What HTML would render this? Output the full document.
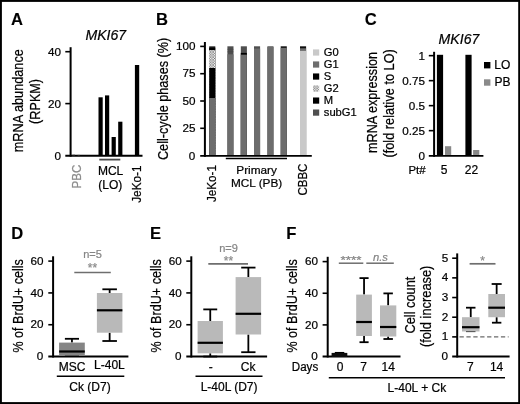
<!DOCTYPE html>
<html><head><meta charset="utf-8"><title>Figure</title>
<style>
html,body{margin:0;padding:0;background:#fff;}
svg{display:block;font-family:'Liberation Sans', Arial, Helvetica, sans-serif;}
</style></head>
<body>
<svg width="520" height="404" viewBox="0 0 520 404">
<defs>
<pattern id="hatch" width="2.6" height="2.6" patternUnits="userSpaceOnUse">
<rect width="2.6" height="2.6" fill="#efefef"/>
<path d="M0 0L2.6 2.6M2.6 0L0 2.6" stroke="#555" stroke-width="0.5"/>
</pattern>
<filter id="soft" x="0" y="0" width="100%" height="100%"><feGaussianBlur stdDeviation="0.45"/></filter>
</defs>
<rect x="0" y="0" width="520" height="404" fill="#000"/>
<rect x="1.9" y="1.9" width="516.3" height="400.2" fill="#fff"/>
<g filter="url(#soft)">
<text x="11" y="25" font-size="16.6" text-anchor="start" fill="#000" stroke="#000" stroke-width="0.12" font-weight="bold" font-style="normal">A</text>
<text x="85.4" y="40.1" font-size="14.1" text-anchor="start" fill="#000" stroke="#000" stroke-width="0.22" font-weight="normal" font-style="italic">MKI67</text>
<line x1="70.60" y1="47.20" x2="70.60" y2="156.65" stroke="#000" stroke-width="2.0" />
<line x1="65.30" y1="155.70" x2="142.50" y2="155.70" stroke="#000" stroke-width="1.9" />
<line x1="65.30" y1="51.70" x2="70.60" y2="51.70" stroke="#000" stroke-width="1.6" />
<text x="60.9" y="55.900000000000006" font-size="11.7" text-anchor="end" fill="#000" stroke="#000" stroke-width="0.22" font-weight="normal" font-style="normal">40</text>
<line x1="65.30" y1="103.60" x2="70.60" y2="103.60" stroke="#000" stroke-width="1.6" />
<text x="60.9" y="107.8" font-size="11.7" text-anchor="end" fill="#000" stroke="#000" stroke-width="0.22" font-weight="normal" font-style="normal">20</text>
<text x="60.9" y="159.9" font-size="11.7" text-anchor="end" fill="#000" stroke="#000" stroke-width="0.22" font-weight="normal" font-style="normal">0</text>
<rect x="98.50" y="97.30" width="4.20" height="58.40" fill="#000" />
<rect x="105.00" y="95.40" width="4.20" height="60.30" fill="#000" />
<rect x="111.60" y="137.00" width="4.20" height="18.70" fill="#000" />
<rect x="118.20" y="121.70" width="4.20" height="34.00" fill="#000" />
<rect x="134.90" y="65.00" width="4.30" height="90.70" fill="#000" />
<rect x="72.40" y="154.00" width="2.60" height="1.20" fill="#999" />
<rect x="77.50" y="154.40" width="2.30" height="0.80" fill="#aaa" />
<line x1="99.30" y1="159.60" x2="120.30" y2="159.60" stroke="#4a4a4a" stroke-width="1.8" />
<text x="80.8" y="188.5" font-size="12" text-anchor="start" fill="#8c8c8c" stroke="#8c8c8c" stroke-width="0.22" font-weight="normal" font-style="normal" textLength="23.8" lengthAdjust="spacingAndGlyphs" transform="rotate(-90 80.8 188.5)">PBC</text>
<text x="110.6" y="174.8" font-size="12" text-anchor="middle" fill="#000" stroke="#000" stroke-width="0.22" font-weight="normal" font-style="normal">MCL</text>
<text x="110.3" y="189.1" font-size="12" text-anchor="middle" fill="#000" stroke="#000" stroke-width="0.22" font-weight="normal" font-style="normal">(LO)</text>
<text x="141.2" y="202.8" font-size="12" text-anchor="start" fill="#000" stroke="#000" stroke-width="0.22" font-weight="normal" font-style="normal" textLength="37.4" lengthAdjust="spacingAndGlyphs" transform="rotate(-90 141.2 202.8)">JeKo-1</text>
<text x="22.7" y="100.69999999999999" font-size="14.7" text-anchor="middle" fill="#000" stroke="#000" stroke-width="0.22" font-weight="normal" font-style="normal" textLength="103.0" lengthAdjust="spacingAndGlyphs" transform="rotate(-90 22.7 100.69999999999999)">mRNA abundance</text>
<text x="39.9" y="101.4" font-size="14.5" text-anchor="middle" fill="#000" stroke="#000" stroke-width="0.22" font-weight="normal" font-style="normal" textLength="45.0" lengthAdjust="spacingAndGlyphs" transform="rotate(-90 39.9 101.4)">(RPKM)</text>
<text x="156" y="25" font-size="16.6" text-anchor="start" fill="#000" stroke="#000" stroke-width="0.12" font-weight="bold" font-style="normal">B</text>
<line x1="204.90" y1="42.00" x2="204.90" y2="156.85" stroke="#000" stroke-width="2.0" />
<line x1="200.20" y1="155.90" x2="311.80" y2="155.90" stroke="#000" stroke-width="1.9" />
<line x1="200.20" y1="46.40" x2="204.90" y2="46.40" stroke="#000" stroke-width="1.6" />
<text x="195.6" y="49.89999999999999" font-size="11.7" text-anchor="end" fill="#000" stroke="#000" stroke-width="0.22" font-weight="normal" font-style="normal">100</text>
<line x1="200.20" y1="73.70" x2="204.90" y2="73.70" stroke="#000" stroke-width="1.6" />
<text x="195.6" y="77.19999999999999" font-size="11.7" text-anchor="end" fill="#000" stroke="#000" stroke-width="0.22" font-weight="normal" font-style="normal">75</text>
<line x1="200.20" y1="101.00" x2="204.90" y2="101.00" stroke="#000" stroke-width="1.6" />
<text x="195.6" y="104.5" font-size="11.7" text-anchor="end" fill="#000" stroke="#000" stroke-width="0.22" font-weight="normal" font-style="normal">50</text>
<line x1="200.20" y1="128.30" x2="204.90" y2="128.30" stroke="#000" stroke-width="1.6" />
<text x="195.6" y="131.79999999999998" font-size="11.7" text-anchor="end" fill="#000" stroke="#000" stroke-width="0.22" font-weight="normal" font-style="normal">25</text>
<text x="195.3" y="159.7" font-size="11.7" text-anchor="end" fill="#000" stroke="#000" stroke-width="0.22" font-weight="normal" font-style="normal">0</text>
<rect x="209.20" y="46.30" width="6.10" height="108.70" fill="#2a2a2a" />
<rect x="209.20" y="47.60" width="6.10" height="107.40" fill="#000" />
<rect x="209.20" y="50.30" width="6.10" height="104.70" fill="#e9e9e9" />
<rect x="209.20" y="50.30" width="6.10" height="104.70" fill="url(#hatch)" />
<rect x="209.20" y="68.00" width="6.10" height="87.00" fill="#000" />
<rect x="209.20" y="98.00" width="6.10" height="57.00" fill="#6d6d6d" />
<rect x="227.40" y="46.30" width="6.10" height="108.70" fill="#505050" />
<rect x="227.40" y="54.30" width="6.10" height="100.70" fill="#6d6d6d" />
<line x1="227.40" y1="49.30" x2="233.50" y2="49.30" stroke="#3c3c3c" stroke-width="0.5" />
<line x1="227.40" y1="51.80" x2="233.50" y2="51.80" stroke="#3c3c3c" stroke-width="0.5" />
<rect x="240.80" y="46.30" width="6.10" height="108.70" fill="#505050" />
<rect x="240.80" y="52.90" width="6.10" height="102.10" fill="#000" />
<rect x="240.80" y="54.70" width="6.10" height="100.30" fill="#6d6d6d" />
<rect x="254.00" y="46.30" width="6.10" height="108.70" fill="#505050" />
<rect x="254.00" y="48.60" width="6.10" height="106.40" fill="#6d6d6d" />
<rect x="267.40" y="46.30" width="6.10" height="108.70" fill="#505050" />
<rect x="267.40" y="47.00" width="6.10" height="108.00" fill="#6d6d6d" />
<rect x="280.70" y="46.30" width="6.10" height="108.70" fill="#111" />
<rect x="280.70" y="47.90" width="6.10" height="107.10" fill="#6d6d6d" />
<rect x="300.00" y="46.30" width="6.10" height="108.70" fill="#111" />
<rect x="300.00" y="48.30" width="6.10" height="106.70" fill="#6d6d6d" />
<rect x="300.00" y="50.90" width="6.10" height="104.10" fill="#c9c9c9" />
<line x1="225.80" y1="158.50" x2="287.00" y2="158.50" stroke="#000" stroke-width="1.6" />
<text x="216.0" y="202.0" font-size="12" text-anchor="start" fill="#000" stroke="#000" stroke-width="0.22" font-weight="normal" font-style="normal" textLength="37" lengthAdjust="spacingAndGlyphs" transform="rotate(-90 216.0 202.0)">JeKo-1</text>
<text x="256.6" y="173.7" font-size="11.8" text-anchor="middle" fill="#000" stroke="#000" stroke-width="0.22" font-weight="normal" font-style="normal">Primary</text>
<text x="256.6" y="187.3" font-size="11.8" text-anchor="middle" fill="#000" stroke="#000" stroke-width="0.22" font-weight="normal" font-style="normal">MCL (PB)</text>
<text x="306.6" y="195.6" font-size="12" text-anchor="start" fill="#000" stroke="#000" stroke-width="0.22" font-weight="normal" font-style="normal" textLength="32" lengthAdjust="spacingAndGlyphs" transform="rotate(-90 306.6 195.6)">CBBC</text>
<text x="167.8" y="98.9" font-size="14" text-anchor="middle" fill="#000" stroke="#000" stroke-width="0.22" font-weight="normal" font-style="normal" textLength="122.2" lengthAdjust="spacingAndGlyphs" transform="rotate(-90 167.8 98.9)">Cell-cycle phases (%)</text>
<rect x="313.00" y="49.40" width="6.20" height="6.20" fill="#c9c9c9" />
<text x="323.8" y="56.199999999999996" font-size="11.2" text-anchor="start" fill="#000" stroke="#000" stroke-width="0.22" font-weight="normal" font-style="normal">G0</text>
<rect x="313.00" y="61.42" width="6.20" height="6.20" fill="#6d6d6d" />
<text x="323.8" y="68.22" font-size="11.2" text-anchor="start" fill="#000" stroke="#000" stroke-width="0.22" font-weight="normal" font-style="normal">G1</text>
<rect x="313.00" y="73.44" width="6.20" height="6.20" fill="#000" />
<text x="323.8" y="80.24" font-size="11.2" text-anchor="start" fill="#000" stroke="#000" stroke-width="0.22" font-weight="normal" font-style="normal">S</text>
<rect x="313.00" y="85.46" width="6.20" height="6.20" fill="url(#hatch)" />
<text x="323.8" y="92.26" font-size="11.2" text-anchor="start" fill="#000" stroke="#000" stroke-width="0.22" font-weight="normal" font-style="normal">G2</text>
<rect x="313.00" y="97.48" width="6.20" height="6.20" fill="#000" />
<text x="323.8" y="104.27999999999999" font-size="11.2" text-anchor="start" fill="#000" stroke="#000" stroke-width="0.22" font-weight="normal" font-style="normal">M</text>
<rect x="313.00" y="109.50" width="6.20" height="6.20" fill="#505050" />
<text x="323.8" y="116.3" font-size="11.2" text-anchor="start" fill="#000" stroke="#000" stroke-width="0.22" font-weight="normal" font-style="normal">subG1</text>
<text x="364.8" y="25" font-size="16.6" text-anchor="start" fill="#000" stroke="#000" stroke-width="0.12" font-weight="bold" font-style="normal">C</text>
<text x="438.6" y="44.0" font-size="14.1" text-anchor="start" fill="#000" stroke="#000" stroke-width="0.22" font-weight="normal" font-style="italic">MKI67</text>
<line x1="434.10" y1="51.80" x2="434.10" y2="156.80" stroke="#000" stroke-width="2.0" />
<line x1="428.80" y1="155.85" x2="483.40" y2="155.85" stroke="#000" stroke-width="1.9" />
<line x1="428.80" y1="55.65" x2="434.10" y2="55.65" stroke="#000" stroke-width="1.6" />
<text x="425" y="60.150000000000006" font-size="11.7" text-anchor="end" fill="#000" stroke="#000" stroke-width="0.22" font-weight="normal" font-style="normal">1</text>
<line x1="428.80" y1="80.65" x2="434.10" y2="80.65" stroke="#000" stroke-width="1.6" />
<text x="425" y="85.15" font-size="11.7" text-anchor="end" fill="#000" stroke="#000" stroke-width="0.22" font-weight="normal" font-style="normal">0.75</text>
<line x1="428.80" y1="105.65" x2="434.10" y2="105.65" stroke="#000" stroke-width="1.6" />
<text x="425" y="110.15" font-size="11.7" text-anchor="end" fill="#000" stroke="#000" stroke-width="0.22" font-weight="normal" font-style="normal">0.5</text>
<line x1="428.80" y1="130.65" x2="434.10" y2="130.65" stroke="#000" stroke-width="1.6" />
<text x="425" y="135.15" font-size="11.7" text-anchor="end" fill="#000" stroke="#000" stroke-width="0.22" font-weight="normal" font-style="normal">0.25</text>
<text x="425" y="159.5" font-size="11.7" text-anchor="end" fill="#000" stroke="#000" stroke-width="0.22" font-weight="normal" font-style="normal">0</text>
<rect x="436.90" y="54.80" width="6.20" height="101.05" fill="#000" />
<rect x="465.40" y="54.80" width="6.20" height="101.05" fill="#000" />
<rect x="445.00" y="146.20" width="6.20" height="8.75" fill="#888" />
<rect x="473.10" y="150.00" width="6.20" height="4.95" fill="#888" />
<text x="408.4" y="174.1" font-size="11.4" text-anchor="start" fill="#000" stroke="#000" stroke-width="0.22" font-weight="normal" font-style="normal">Pt#</text>
<text x="444.0" y="174.1" font-size="12" text-anchor="middle" fill="#000" stroke="#000" stroke-width="0.22" font-weight="normal" font-style="normal">5</text>
<text x="471.5" y="174.1" font-size="12" text-anchor="middle" fill="#000" stroke="#000" stroke-width="0.22" font-weight="normal" font-style="normal">22</text>
<rect x="484.00" y="62.00" width="6.40" height="6.40" fill="#000" />
<text x="494.3" y="68.6" font-size="12" text-anchor="start" fill="#000" stroke="#000" stroke-width="0.22" font-weight="normal" font-style="normal">LO</text>
<rect x="484.00" y="79.30" width="6.40" height="6.40" fill="#8a8a8a" />
<text x="494.6" y="86" font-size="12" text-anchor="start" fill="#000" stroke="#000" stroke-width="0.22" font-weight="normal" font-style="normal">PB</text>
<text x="377.0" y="102.5" font-size="14.7" text-anchor="middle" fill="#000" stroke="#000" stroke-width="0.22" font-weight="normal" font-style="normal" textLength="101.0" lengthAdjust="spacingAndGlyphs" transform="rotate(-90 377.0 102.5)">mRNA expression</text>
<text x="394.0" y="103.35" font-size="14.5" text-anchor="middle" fill="#000" stroke="#000" stroke-width="0.22" font-weight="normal" font-style="normal" textLength="108.3" lengthAdjust="spacingAndGlyphs" transform="rotate(-90 394.0 103.35)">(fold relative to LO)</text>
<text x="11.3" y="238.7" font-size="16.6" text-anchor="start" fill="#000" stroke="#000" stroke-width="0.12" font-weight="bold" font-style="normal">D</text>
<line x1="53.10" y1="256.30" x2="53.10" y2="357.50" stroke="#000" stroke-width="2.0" />
<line x1="48.30" y1="356.55" x2="128.40" y2="356.55" stroke="#000" stroke-width="1.9" />
<line x1="48.30" y1="261.10" x2="53.10" y2="261.10" stroke="#000" stroke-width="1.6" />
<text x="43.599999999999994" y="264.70000000000005" font-size="11.7" text-anchor="end" fill="#000" stroke="#000" stroke-width="0.22" font-weight="normal" font-style="normal">60</text>
<line x1="48.30" y1="292.92" x2="53.10" y2="292.92" stroke="#000" stroke-width="1.6" />
<text x="43.599999999999994" y="296.5166666666667" font-size="11.7" text-anchor="end" fill="#000" stroke="#000" stroke-width="0.22" font-weight="normal" font-style="normal">40</text>
<line x1="48.30" y1="324.73" x2="53.10" y2="324.73" stroke="#000" stroke-width="1.6" />
<text x="43.599999999999994" y="328.33333333333337" font-size="11.7" text-anchor="end" fill="#000" stroke="#000" stroke-width="0.22" font-weight="normal" font-style="normal">20</text>
<text x="43.3" y="360.05" font-size="11.7" text-anchor="end" fill="#000" stroke="#000" stroke-width="0.22" font-weight="normal" font-style="normal">0</text>
<text x="92.6" y="257.8" font-size="11" text-anchor="middle" fill="#858585" stroke="#858585" stroke-width="0.22" font-weight="normal" font-style="normal">n=5</text>
<text x="92.5" y="271.8" font-size="12" text-anchor="middle" fill="#8a8a8a" stroke="#8a8a8a" stroke-width="0.22" font-weight="normal" font-style="normal">**</text>
<line x1="74.30" y1="272.50" x2="110.80" y2="272.50" stroke="#6e6e6e" stroke-width="1.7" />
<line x1="71.95" y1="338.80" x2="71.95" y2="342.60" stroke="#000" stroke-width="1.8" />
<line x1="71.95" y1="355.65" x2="71.95" y2="355.65" stroke="#000" stroke-width="1.8" />
<line x1="64.88" y1="338.80" x2="79.02" y2="338.80" stroke="#000" stroke-width="1.8" />
<line x1="64.88" y1="355.65" x2="79.02" y2="355.65" stroke="#000" stroke-width="1.8" />
<rect x="59.10" y="342.60" width="25.70" height="13.05" fill="#858585" />
<line x1="59.10" y1="351.50" x2="84.80" y2="351.50" stroke="#000" stroke-width="2.2" />
<line x1="109.65" y1="289.30" x2="109.65" y2="293.00" stroke="#000" stroke-width="1.8" />
<line x1="109.65" y1="332.70" x2="109.65" y2="341.00" stroke="#000" stroke-width="1.8" />
<line x1="102.38" y1="289.30" x2="116.92" y2="289.30" stroke="#000" stroke-width="1.8" />
<line x1="102.38" y1="341.00" x2="116.92" y2="341.00" stroke="#000" stroke-width="1.8" />
<rect x="96.90" y="293.00" width="25.50" height="39.70" fill="#b9b9b9" />
<line x1="96.90" y1="310.30" x2="122.40" y2="310.30" stroke="#000" stroke-width="2.2" />
<text x="72.1" y="371.3" font-size="12" text-anchor="middle" fill="#000" stroke="#000" stroke-width="0.22" font-weight="normal" font-style="normal">MSC</text>
<text x="109.4" y="368.5" font-size="12" text-anchor="middle" fill="#000" stroke="#000" stroke-width="0.22" font-weight="normal" font-style="normal">L-40L</text>
<line x1="56.80" y1="376.25" x2="124.30" y2="376.25" stroke="#000" stroke-width="1.6" />
<text x="90" y="391.3" font-size="12" text-anchor="middle" fill="#000" stroke="#000" stroke-width="0.22" font-weight="normal" font-style="normal">Ck (D7)</text>
<text x="23.0" y="305.85" font-size="14.6" text-anchor="middle" fill="#000" stroke="#000" stroke-width="0.22" font-weight="normal" font-style="normal" textLength="93.5" lengthAdjust="spacingAndGlyphs" transform="rotate(-90 23.0 305.85)">% of BrdU+ cells</text>
<text x="150.1" y="238.7" font-size="16.6" text-anchor="start" fill="#000" stroke="#000" stroke-width="0.12" font-weight="bold" font-style="normal">E</text>
<line x1="191.30" y1="256.30" x2="191.30" y2="357.50" stroke="#000" stroke-width="2.0" />
<line x1="186.30" y1="356.55" x2="267.10" y2="356.55" stroke="#000" stroke-width="1.9" />
<line x1="186.30" y1="261.10" x2="191.30" y2="261.10" stroke="#000" stroke-width="1.6" />
<text x="181.8" y="264.70000000000005" font-size="11.7" text-anchor="end" fill="#000" stroke="#000" stroke-width="0.22" font-weight="normal" font-style="normal">60</text>
<line x1="186.30" y1="292.92" x2="191.30" y2="292.92" stroke="#000" stroke-width="1.6" />
<text x="181.8" y="296.5166666666667" font-size="11.7" text-anchor="end" fill="#000" stroke="#000" stroke-width="0.22" font-weight="normal" font-style="normal">40</text>
<line x1="186.30" y1="324.73" x2="191.30" y2="324.73" stroke="#000" stroke-width="1.6" />
<text x="181.8" y="328.33333333333337" font-size="11.7" text-anchor="end" fill="#000" stroke="#000" stroke-width="0.22" font-weight="normal" font-style="normal">20</text>
<text x="181.5" y="360.05" font-size="11.7" text-anchor="end" fill="#000" stroke="#000" stroke-width="0.22" font-weight="normal" font-style="normal">0</text>
<text x="228.5" y="252.4" font-size="11" text-anchor="middle" fill="#858585" stroke="#858585" stroke-width="0.22" font-weight="normal" font-style="normal">n=9</text>
<text x="228.4" y="265.3" font-size="12" text-anchor="middle" fill="#8a8a8a" stroke="#8a8a8a" stroke-width="0.22" font-weight="normal" font-style="normal">**</text>
<line x1="208.30" y1="263.80" x2="248.00" y2="263.80" stroke="#6e6e6e" stroke-width="1.7" />
<line x1="210.25" y1="309.40" x2="210.25" y2="321.00" stroke="#000" stroke-width="1.8" />
<line x1="210.25" y1="353.30" x2="210.25" y2="356.55" stroke="#000" stroke-width="1.8" />
<line x1="203.29" y1="309.40" x2="217.21" y2="309.40" stroke="#000" stroke-width="1.8" />
<line x1="203.29" y1="356.55" x2="217.21" y2="356.55" stroke="#000" stroke-width="1.8" />
<rect x="197.60" y="321.00" width="25.30" height="32.30" fill="#b9b9b9" />
<line x1="197.60" y1="342.80" x2="222.90" y2="342.80" stroke="#000" stroke-width="2.2" />
<line x1="248.35" y1="267.60" x2="248.35" y2="277.10" stroke="#000" stroke-width="1.8" />
<line x1="248.35" y1="334.50" x2="248.35" y2="352.20" stroke="#000" stroke-width="1.8" />
<line x1="241.21" y1="267.60" x2="255.49" y2="267.60" stroke="#000" stroke-width="1.8" />
<line x1="241.21" y1="352.20" x2="255.49" y2="352.20" stroke="#000" stroke-width="1.8" />
<rect x="235.60" y="277.10" width="25.50" height="57.40" fill="#b9b9b9" />
<line x1="235.60" y1="313.80" x2="261.10" y2="313.80" stroke="#000" stroke-width="2.2" />
<text x="210.7" y="371" font-size="12" text-anchor="middle" fill="#000" stroke="#000" stroke-width="0.22" font-weight="normal" font-style="normal">-</text>
<text x="248.2" y="371.0" font-size="12" text-anchor="middle" fill="#000" stroke="#000" stroke-width="0.22" font-weight="normal" font-style="normal">Ck</text>
<line x1="195.50" y1="376.25" x2="262.50" y2="376.25" stroke="#000" stroke-width="1.6" />
<text x="229.1" y="391.3" font-size="12" text-anchor="middle" fill="#000" stroke="#000" stroke-width="0.22" font-weight="normal" font-style="normal">L-40L (D7)</text>
<text x="161.3" y="305.85" font-size="14.6" text-anchor="middle" fill="#000" stroke="#000" stroke-width="0.22" font-weight="normal" font-style="normal" textLength="93.5" lengthAdjust="spacingAndGlyphs" transform="rotate(-90 161.3 305.85)">% of BrdU+ cells</text>
<text x="286.3" y="238.7" font-size="16.6" text-anchor="start" fill="#000" stroke="#000" stroke-width="0.12" font-weight="bold" font-style="normal">F</text>
<line x1="327.70" y1="256.80" x2="327.70" y2="357.50" stroke="#000" stroke-width="2.0" />
<line x1="322.60" y1="356.55" x2="400.50" y2="356.55" stroke="#000" stroke-width="1.9" />
<line x1="322.60" y1="261.60" x2="327.70" y2="261.60" stroke="#000" stroke-width="1.6" />
<text x="318.1" y="265.20000000000005" font-size="11.7" text-anchor="end" fill="#000" stroke="#000" stroke-width="0.22" font-weight="normal" font-style="normal">60</text>
<line x1="322.60" y1="293.25" x2="327.70" y2="293.25" stroke="#000" stroke-width="1.6" />
<text x="318.1" y="296.85" font-size="11.7" text-anchor="end" fill="#000" stroke="#000" stroke-width="0.22" font-weight="normal" font-style="normal">40</text>
<line x1="322.60" y1="324.90" x2="327.70" y2="324.90" stroke="#000" stroke-width="1.6" />
<text x="318.1" y="328.50000000000006" font-size="11.7" text-anchor="end" fill="#000" stroke="#000" stroke-width="0.22" font-weight="normal" font-style="normal">20</text>
<text x="317.8" y="360.05" font-size="11.7" text-anchor="end" fill="#000" stroke="#000" stroke-width="0.22" font-weight="normal" font-style="normal">0</text>
<text x="351.0" y="264.4" font-size="11" text-anchor="middle" fill="#858585" stroke="#858585" stroke-width="0.22" font-weight="normal" font-style="normal" textLength="21" lengthAdjust="spacingAndGlyphs">****</text>
<line x1="338.80" y1="263.20" x2="363.30" y2="263.20" stroke="#6e6e6e" stroke-width="1.5" />
<text x="380.4" y="260.8" font-size="11.2" text-anchor="middle" fill="#858585" stroke="#858585" stroke-width="0.22" font-weight="normal" font-style="italic">n.s</text>
<line x1="366.30" y1="263.20" x2="393.80" y2="263.20" stroke="#6e6e6e" stroke-width="1.5" />
<rect x="331.60" y="352.90" width="15.70" height="3.65" fill="#111" />
<line x1="334.80" y1="352.60" x2="344.30" y2="352.60" stroke="#000" stroke-width="1.3" />
<line x1="364.05" y1="278.10" x2="364.05" y2="294.60" stroke="#000" stroke-width="1.8" />
<line x1="364.05" y1="336.00" x2="364.05" y2="342.20" stroke="#000" stroke-width="1.8" />
<line x1="359.50" y1="278.10" x2="368.60" y2="278.10" stroke="#000" stroke-width="1.8" />
<line x1="359.50" y1="342.20" x2="368.60" y2="342.20" stroke="#000" stroke-width="1.8" />
<rect x="356.20" y="294.60" width="15.70" height="41.40" fill="#b9b9b9" />
<line x1="356.20" y1="322.00" x2="371.90" y2="322.00" stroke="#000" stroke-width="2.2" />
<line x1="388.15" y1="293.40" x2="388.15" y2="305.40" stroke="#000" stroke-width="1.8" />
<line x1="388.15" y1="336.50" x2="388.15" y2="339.00" stroke="#000" stroke-width="1.8" />
<line x1="383.42" y1="293.40" x2="392.88" y2="293.40" stroke="#000" stroke-width="1.8" />
<line x1="383.42" y1="339.00" x2="392.88" y2="339.00" stroke="#000" stroke-width="1.8" />
<rect x="380.00" y="305.40" width="16.30" height="31.10" fill="#b9b9b9" />
<line x1="380.00" y1="327.00" x2="396.30" y2="327.00" stroke="#000" stroke-width="2.2" />
<text x="291.8" y="371.0" font-size="12" text-anchor="start" fill="#000" stroke="#000" stroke-width="0.22" font-weight="normal" font-style="normal" textLength="26.4" lengthAdjust="spacingAndGlyphs">Days</text>
<text x="340.0" y="371.0" font-size="12" text-anchor="middle" fill="#000" stroke="#000" stroke-width="0.22" font-weight="normal" font-style="normal">0</text>
<text x="363.7" y="371.0" font-size="12" text-anchor="middle" fill="#000" stroke="#000" stroke-width="0.22" font-weight="normal" font-style="normal">7</text>
<text x="388.2" y="371.0" font-size="12" text-anchor="middle" fill="#000" stroke="#000" stroke-width="0.22" font-weight="normal" font-style="normal">14</text>
<line x1="328.80" y1="377.80" x2="505.00" y2="377.80" stroke="#000" stroke-width="1.6" />
<text x="387.6" y="392.2" font-size="12" text-anchor="start" fill="#000" stroke="#000" stroke-width="0.22" font-weight="normal" font-style="normal">L-40L + Ck</text>
<text x="297.5" y="305.85" font-size="14.6" text-anchor="middle" fill="#000" stroke="#000" stroke-width="0.22" font-weight="normal" font-style="normal" textLength="93.5" lengthAdjust="spacingAndGlyphs" transform="rotate(-90 297.5 305.85)">% of BrdU+ cells</text>
<line x1="457.20" y1="253.40" x2="457.20" y2="357.50" stroke="#000" stroke-width="2.0" />
<line x1="452.20" y1="356.55" x2="509.60" y2="356.55" stroke="#000" stroke-width="1.9" />
<line x1="452.20" y1="258.20" x2="457.20" y2="258.20" stroke="#000" stroke-width="1.6" />
<text x="448.2" y="261.8" font-size="11.7" text-anchor="end" fill="#000" stroke="#000" stroke-width="0.22" font-weight="normal" font-style="normal">5</text>
<line x1="452.20" y1="277.87" x2="457.20" y2="277.87" stroke="#000" stroke-width="1.6" />
<text x="448.2" y="281.47" font-size="11.7" text-anchor="end" fill="#000" stroke="#000" stroke-width="0.22" font-weight="normal" font-style="normal">4</text>
<line x1="452.20" y1="297.54" x2="457.20" y2="297.54" stroke="#000" stroke-width="1.6" />
<text x="448.2" y="301.14" font-size="11.7" text-anchor="end" fill="#000" stroke="#000" stroke-width="0.22" font-weight="normal" font-style="normal">3</text>
<line x1="452.20" y1="317.21" x2="457.20" y2="317.21" stroke="#000" stroke-width="1.6" />
<text x="448.2" y="320.81" font-size="11.7" text-anchor="end" fill="#000" stroke="#000" stroke-width="0.22" font-weight="normal" font-style="normal">2</text>
<line x1="452.20" y1="336.88" x2="457.20" y2="336.88" stroke="#000" stroke-width="1.6" />
<text x="448.2" y="340.48" font-size="11.7" text-anchor="end" fill="#000" stroke="#000" stroke-width="0.22" font-weight="normal" font-style="normal">1</text>
<text x="447.9" y="360.05" font-size="11.7" text-anchor="end" fill="#000" stroke="#000" stroke-width="0.22" font-weight="normal" font-style="normal">0</text>
<line x1="458.20" y1="336.88" x2="508.60" y2="336.88" stroke="#6a6a6a" stroke-width="1.4" stroke-dasharray="4.3 2.6" stroke-dashoffset="5.6"/>
<text x="482.5" y="265.3" font-size="12" text-anchor="middle" fill="#8a8a8a" stroke="#8a8a8a" stroke-width="0.22" font-weight="normal" font-style="normal">*</text>
<line x1="469.60" y1="263.80" x2="495.50" y2="263.80" stroke="#6e6e6e" stroke-width="1.7" />
<line x1="470.75" y1="307.70" x2="470.75" y2="317.20" stroke="#000" stroke-width="1.8" />
<line x1="470.75" y1="331.50" x2="470.75" y2="331.20" stroke="#000" stroke-width="1.8" />
<line x1="466.02" y1="307.70" x2="475.48" y2="307.70" stroke="#000" stroke-width="1.8" />
<line x1="466.02" y1="331.20" x2="475.48" y2="331.20" stroke="#000" stroke-width="1.8" />
<rect x="462.00" y="317.20" width="17.50" height="14.30" fill="#b9b9b9" />
<line x1="462.00" y1="327.20" x2="479.50" y2="327.20" stroke="#000" stroke-width="2.2" />
<line x1="496.65" y1="284.00" x2="496.65" y2="294.00" stroke="#000" stroke-width="1.8" />
<line x1="496.65" y1="317.20" x2="496.65" y2="322.70" stroke="#000" stroke-width="1.8" />
<line x1="491.64" y1="284.00" x2="501.66" y2="284.00" stroke="#000" stroke-width="1.8" />
<line x1="491.95" y1="322.70" x2="501.35" y2="322.70" stroke="#000" stroke-width="1.8" />
<rect x="488.30" y="294.00" width="16.70" height="23.20" fill="#b9b9b9" />
<line x1="488.30" y1="307.70" x2="505.00" y2="307.70" stroke="#000" stroke-width="2.2" />
<text x="470.4" y="370.8" font-size="12" text-anchor="middle" fill="#000" stroke="#000" stroke-width="0.22" font-weight="normal" font-style="normal">7</text>
<text x="496.6" y="370.8" font-size="12" text-anchor="middle" fill="#000" stroke="#000" stroke-width="0.22" font-weight="normal" font-style="normal">14</text>
<text x="415.3" y="305.1" font-size="14" text-anchor="middle" fill="#000" stroke="#000" stroke-width="0.22" font-weight="normal" font-style="normal" textLength="57.0" lengthAdjust="spacingAndGlyphs" transform="rotate(-90 415.3 305.1)">Cell count</text>
<text x="431.3" y="306.3" font-size="14" text-anchor="middle" fill="#000" stroke="#000" stroke-width="0.22" font-weight="normal" font-style="normal" textLength="81.4" lengthAdjust="spacingAndGlyphs" transform="rotate(-90 431.3 306.3)">(fold increase)</text>
</g>
</svg>
</body></html>
